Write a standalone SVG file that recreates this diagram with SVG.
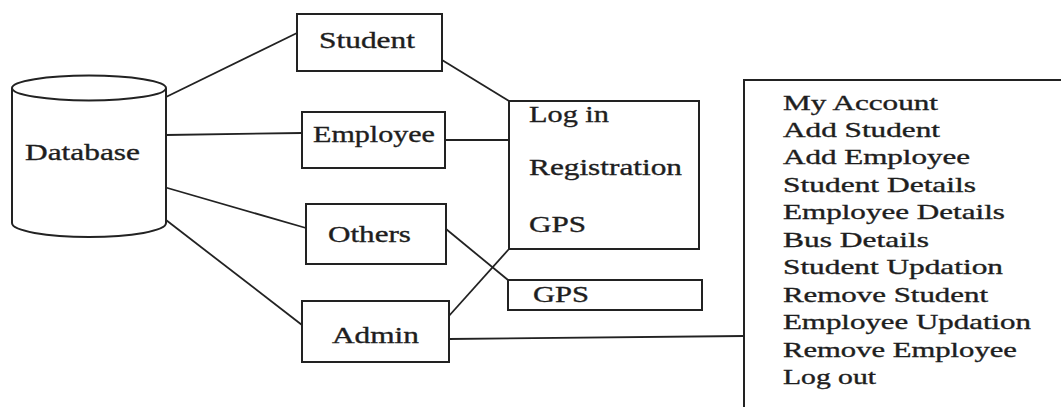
<svg xmlns="http://www.w3.org/2000/svg" width="1061" height="407" viewBox="0 0 1061 407">
  <style>
    .box { fill: #ffffff; stroke: #222222; stroke-width: 2; }
    .wire { fill: none; stroke: #222222; stroke-width: 1.8; }
    .lbl { font-family: "Liberation Serif", "Times New Roman", serif; font-size: 23px; fill: #1e1e1e; stroke: #1e1e1e; stroke-width: 0.35; }
    .menu { font-family: "Liberation Serif", "Times New Roman", serif; font-size: 21px; fill: #1e1e1e; stroke: #1e1e1e; stroke-width: 0.35; }
  </style>
  <rect width="1061" height="407" fill="#ffffff"/>

  <!-- links between the nodes -->
  <g id="connectors">
    <line class="wire" x1="166" y1="97" x2="297" y2="33"/>
    <line class="wire" x1="166" y1="135" x2="302" y2="133"/>
    <line class="wire" x1="164" y1="187" x2="306" y2="228"/>
    <line class="wire" x1="166" y1="220" x2="302" y2="325"/>
    <line class="wire" x1="442" y1="60" x2="509" y2="101"/>
    <line class="wire" x1="445" y1="140" x2="509" y2="140"/>
    <line class="wire" x1="446" y1="229" x2="508" y2="280"/>
    <line class="wire" x1="448" y1="317" x2="509" y2="249"/>
    <line class="wire" x1="449" y1="339" x2="744" y2="336"/>
  </g>

  <!-- text is drawn wide: each label is scaled 1.43x horizontally -->
  <g id="database">
    <path class="box" d="M12,88 L12,223 A77,14 0 0 0 166,223 L166,88"/>
    <ellipse class="box" cx="89" cy="88" rx="77" ry="12.5"/>
    <text class="lbl" transform="translate(25 160) scale(1.43 1)" textLength="80.4" lengthAdjust="spacingAndGlyphs">Database</text>
  </g>

  <g id="student">
    <rect class="box" x="297" y="14" width="145" height="57"/>
    <text class="lbl" transform="translate(319 48) scale(1.43 1)" textLength="67.1" lengthAdjust="spacingAndGlyphs">Student</text>
  </g>

  <g id="employee">
    <rect class="box" x="302" y="112" width="143" height="56"/>
    <text class="lbl" transform="translate(313 142) scale(1.43 1)" textLength="85.3" lengthAdjust="spacingAndGlyphs">Employee</text>
  </g>

  <g id="others">
    <rect class="box" x="306" y="204" width="140" height="60"/>
    <text class="lbl" transform="translate(328 242) scale(1.43 1)" textLength="58" lengthAdjust="spacingAndGlyphs">Others</text>
  </g>

  <g id="admin">
    <rect class="box" x="302" y="301" width="147" height="61"/>
    <text class="lbl" transform="translate(332 343) scale(1.43 1)" textLength="60.8" lengthAdjust="spacingAndGlyphs">Admin</text>
  </g>

  <g id="login-panel">
    <rect class="box" x="509" y="101" width="190" height="148"/>
    <text class="lbl" transform="translate(529 122) scale(1.43 1)" textLength="55.9" lengthAdjust="spacingAndGlyphs">Log in</text>
    <text class="lbl" transform="translate(529 175) scale(1.43 1)" textLength="107" lengthAdjust="spacingAndGlyphs">Registration</text>
    <text class="lbl" transform="translate(529 232) scale(1.43 1)" textLength="39.9" lengthAdjust="spacingAndGlyphs">GPS</text>
  </g>

  <g id="gps">
    <rect class="box" x="508" y="280" width="194" height="30"/>
    <text class="lbl" transform="translate(533 302) scale(1.43 1)" textLength="39.2" lengthAdjust="spacingAndGlyphs">GPS</text>
  </g>

  <!-- admin menu, runs past the right and bottom edges -->
  <g id="admin-menu">
    <rect class="box" x="744" y="80" width="340" height="360"/>
    <text class="menu" transform="translate(783 109.5) scale(1.43 1)" textLength="108.4" lengthAdjust="spacingAndGlyphs">My Account</text>
    <text class="menu" transform="translate(783 137) scale(1.43 1)" textLength="109.8" lengthAdjust="spacingAndGlyphs">Add Student</text>
    <text class="menu" transform="translate(783 164.4) scale(1.43 1)" textLength="130.8" lengthAdjust="spacingAndGlyphs">Add Employee</text>
    <text class="menu" transform="translate(783 191.8) scale(1.43 1)" textLength="135" lengthAdjust="spacingAndGlyphs">Student Details</text>
    <text class="menu" transform="translate(783 219.3) scale(1.43 1)" textLength="155.2" lengthAdjust="spacingAndGlyphs">Employee Details</text>
    <text class="menu" transform="translate(783 246.7) scale(1.43 1)" textLength="102.1" lengthAdjust="spacingAndGlyphs">Bus Details</text>
    <text class="menu" transform="translate(783 274.2) scale(1.43 1)" textLength="153.8" lengthAdjust="spacingAndGlyphs">Student Updation</text>
    <text class="menu" transform="translate(783 301.6) scale(1.43 1)" textLength="143.4" lengthAdjust="spacingAndGlyphs">Remove Student</text>
    <text class="menu" transform="translate(783 329.1) scale(1.43 1)" textLength="173.4" lengthAdjust="spacingAndGlyphs">Employee Updation</text>
    <text class="menu" transform="translate(783 356.5) scale(1.43 1)" textLength="163.6" lengthAdjust="spacingAndGlyphs">Remove Employee</text>
    <text class="menu" transform="translate(783 384) scale(1.43 1)" textLength="65" lengthAdjust="spacingAndGlyphs">Log out</text>
  </g>
</svg>
